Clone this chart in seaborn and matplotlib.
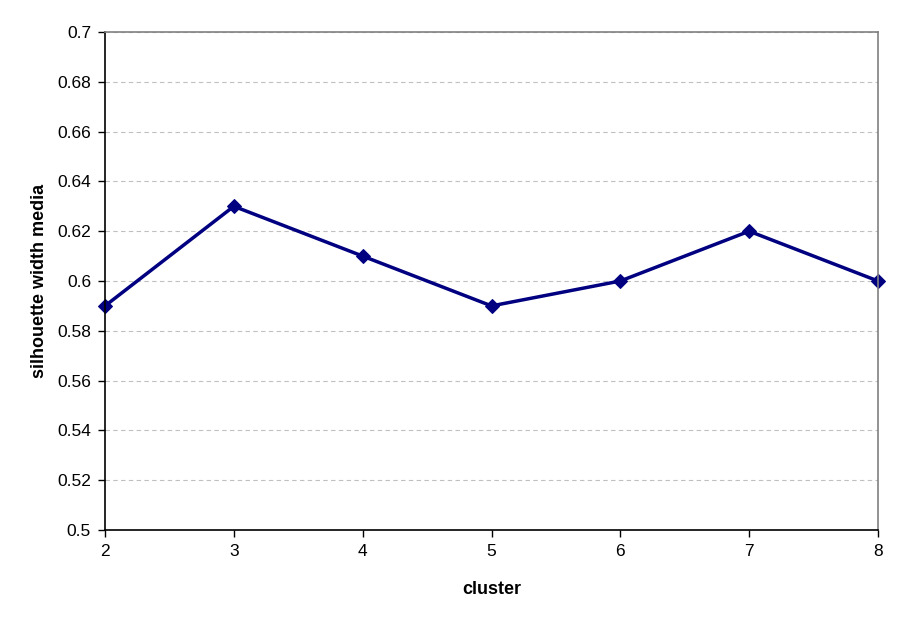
import matplotlib
matplotlib.use("Agg")
import matplotlib.pyplot as plt
import seaborn as sns
import pandas as pd

# Data
clusters = [2, 3, 4, 5, 6, 7, 8]
silhouette = [0.59, 0.63, 0.61, 0.59, 0.60, 0.62, 0.60]
y_ticks = [0.5, 0.52, 0.54, 0.56, 0.58, 0.6, 0.62, 0.64, 0.66, 0.68, 0.7]
y_ticklabels = ["0.5", "0.52", "0.54", "0.56", "0.58", "0.6", "0.62", "0.64", "0.66", "0.68", "0.7"]

df = pd.DataFrame({"cluster": clusters, "silhouette": silhouette})

sns.set_style("white")
plt.rcParams["font.family"] = ["Liberation Sans", "DejaVu Sans"]
plt.rcParams["text.color"] = "black"
plt.rcParams["axes.labelcolor"] = "black"
plt.rcParams["xtick.color"] = "black"
plt.rcParams["ytick.color"] = "black"

fig = plt.figure(figsize=(9, 6.24), dpi=100)
ax = fig.add_axes([105 / 900, 1 - 530 / 624, (878 - 105) / 900, (530 - 32) / 624])

sns.lineplot(data=df, x="cluster", y="silhouette", ax=ax, color="#000080",
             linewidth=2.5, marker="D", markersize=7, markeredgecolor="#000080",
             clip_on=False)

ax.set_xlim(2, 8)
ax.set_ylim(0.5, 0.7)
ax.set_xticks(clusters)
ax.set_xticklabels([str(c) for c in clusters], fontsize=12.5)
ax.set_yticks(y_ticks)
ax.set_yticklabels(y_ticklabels, fontsize=12.5)

ax.yaxis.grid(True, linestyle=(0, (4, 3)), color="#c0c0c0", linewidth=0.8)
ax.xaxis.grid(False)
ax.set_axisbelow(True)

for side in ["left", "bottom"]:
    ax.spines[side].set_color("black")
    ax.spines[side].set_linewidth(1.2)
for side in ["top", "right"]:
    ax.spines[side].set_visible(True)
    ax.spines[side].set_color("#808080")
    ax.spines[side].set_linewidth(1.2)

ax.tick_params(axis="both", direction="out", length=5, width=1, color="black",
               left=True, bottom=True, pad=5)

ax.set_xlabel("cluster", fontsize=13, fontweight="bold", labelpad=16)
ax.set_ylabel("silhouette width media", fontsize=13, fontweight="bold", labelpad=7)

fig.savefig("out.png", dpi=100)
